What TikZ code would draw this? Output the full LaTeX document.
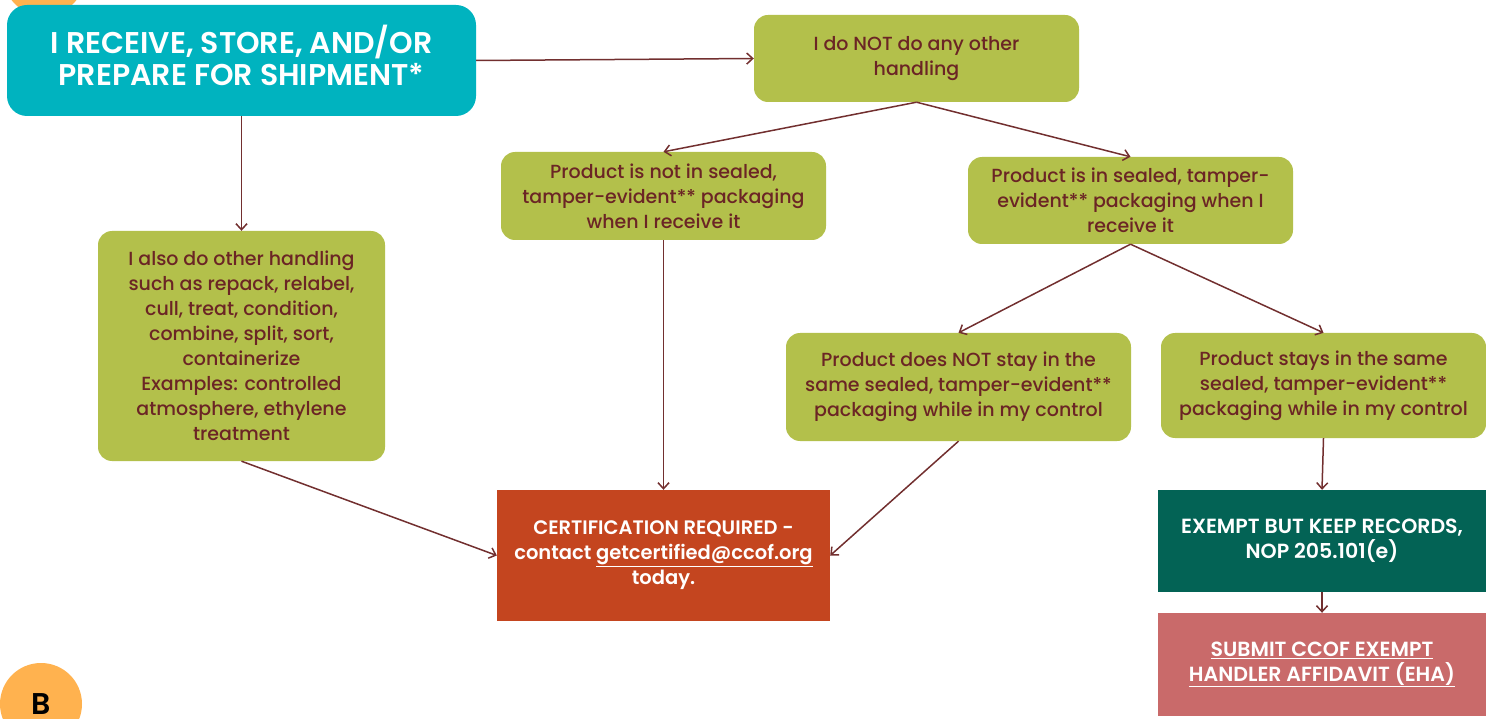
\documentclass[tikz,border=0pt]{standalone}
\usepackage{fontspec}
\setmainfont{Poppins}[UprightFont={* Medium}, BoldFont={* SemiBold}]
\usepackage{xcolor}
\usetikzlibrary{positioning}
\usetikzlibrary{shapes,arrows.meta}

\definecolor{tealbox}{HTML}{00B3BF}
\definecolor{olivebox}{HTML}{B3C04B}
\definecolor{maroontxt}{HTML}{6B2525}
\definecolor{arrowcol}{HTML}{722F2F}
\definecolor{certbox}{HTML}{C4451F}
\definecolor{exemptbox}{HTML}{036355}
\definecolor{submitbox}{HTML}{C96A6A}
\definecolor{badge}{HTML}{FFB24F}

\tikzset{
  choice/.style={fill=olivebox, rounded corners=14pt, text=maroontxt, align=center,
    font=\fontsize{19}{25}\selectfont, inner sep=0pt},
  result/.style={text=white, align=center, font=\fontsize{19.5}{25}\selectfont\bfseries, inner sep=0pt},
  flow/.style={-{Straight Barb[length=6pt,width=11pt]}, draw=arrowcol, line width=1.5pt}
}

\begin{document}
\begin{tikzpicture}[x=1pt, y=-1pt]
    \useasboundingbox (0,0) rectangle (1486,719);

    \fill[badge] (44,-25) circle (41);
    \node(badgeb) [fill=badge, circle, minimum size=82pt, inner sep=0pt,
      font=\fontsize{30}{30}\selectfont\bfseries] at (41,704) {B};

    \node(recv) [fill=tealbox, rounded corners=20pt, minimum width=469pt, minimum height=111pt,
      text=white, align=center, font=\fontsize{30}{32}\selectfont\bfseries] at (241.5,60.5)
      {I RECEIVE, STORE, AND/OR\\PREPARE FOR SHIPMENT*\\[-22pt]};
    \node(nohandle) [choice, minimum width=325pt, minimum height=87pt] at (916.5,58.5)
      {I do NOT do any other\\handling};
    \node(notsealed) [choice, minimum width=325pt, minimum height=88pt] at (663.5,196)
      {Product is not in sealed,\\tamper-evident** packaging\\when I receive it};
    \node(sealed) [choice, minimum width=325pt, minimum height=87pt] at (1130.5,200.5)
      {Product is in sealed, tamper-\\evident** packaging when I\\receive it};
    \node(other) [choice, minimum width=287pt, minimum height=230pt] at (241.5,346)
      {I also do other handling\\such as repack, relabel,\\cull, treat, condition,\\combine, split, sort,\\containerize\\Examples: controlled\\atmosphere, ethylene\\treatment};
    \node(notstay) [choice, minimum width=345pt, minimum height=108pt] at (958.5,387)
      {Product does NOT stay in the\\same sealed, tamper-evident**\\packaging while in my control};
    \node(stays) [choice, minimum width=325pt, minimum height=105pt] at (1323.5,385.5)
      {Product stays in the same\\sealed, tamper-evident**\\packaging while in my control};

    \node(cert) [result, fill=certbox, minimum width=333pt, minimum height=131pt] at (663.5,555.5)
      {CERTIFICATION REQUIRED -\\contact \underline{getcertified@ccof.org}\\today.};
    \node(exempt) [result, fill=exemptbox, minimum width=328pt, minimum height=102pt,
      font=\fontsize{20.5}{25}\selectfont\bfseries] at (1322,541)
      {EXEMPT BUT KEEP RECORDS,\\NOP 205.101(e)};
    \node(submit) [result, fill=submitbox, minimum width=328pt, minimum height=103pt,
      font=\fontsize{20.5}{25}\selectfont\bfseries] at (1322,664.5)
      {\underline{SUBMIT CCOF EXEMPT}\\\underline{HANDLER AFFIDAVIT (EHA)}};

    \draw [flow] (recv.east) -- (nohandle.west);
    \draw [flow] (recv.south) -- (other.north);
    \draw [flow] (nohandle.south) -- (notsealed.north);
    \draw [flow] (nohandle.south) -- (sealed.north);
    \draw [flow] (notsealed.south) -- (cert.north);
    \draw [flow] (sealed.south) -- (notstay.north);
    \draw [flow] (sealed.south) -- (stays.north);
    \draw [flow] (other.south) -- (cert.west);
    \draw [flow] (notstay.south) -- (cert.east);
    \draw [flow] (stays.south) -- (exempt.north);
    \draw [flow] (exempt.south) -- (submit.north);
  \end{tikzpicture}
\end{document}
